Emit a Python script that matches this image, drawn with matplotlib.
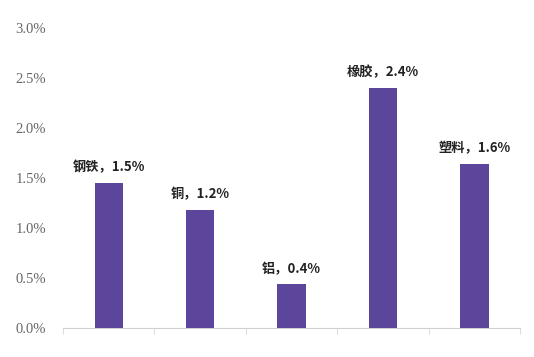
import matplotlib
matplotlib.use("Agg")
import matplotlib.pyplot as plt
from matplotlib.ticker import FuncFormatter

categories = ["钢铁", "铜", "铝", "橡胶", "塑料"]
values = [1.45, 1.18, 0.44, 2.40, 1.64]
value_labels = ["1.5%", "1.2%", "0.4%", "2.4%", "1.6%"]
yticks = [0.0, 0.5, 1.0, 1.5, 2.0, 2.5, 3.0]

plt.rcParams['font.family'] = ['Noto Sans CJK SC', 'DejaVu Sans']

fig = plt.figure(figsize=(5.34, 3.57), dpi=100)
ax = fig.add_axes([0.118, 0.081, 0.856, 0.841])

x = list(range(len(categories)))
ax.bar(x, values, width=0.31, color="#5B469B", zorder=3)

for xi, v, c, lab in zip(x, values, categories, value_labels):
    ax.annotate(f"{c}，{lab}", (xi, v), xytext=(0, 6), textcoords="offset points",
                ha="center", va="bottom", fontsize=9.5, fontweight="bold", color="#222222")

ax.set_xlim(-0.5, len(categories) - 0.5)
ax.set_ylim(0, 3.0)
ax.set_yticks(yticks)
ax.yaxis.set_major_formatter(FuncFormatter(lambda v, p: f"{v:.1f}%"))
for t in ax.get_yticklabels():
    t.set_fontfamily("Liberation Serif")
ax.tick_params(axis="y", length=0, labelsize=10.5, labelcolor="#666666", pad=12)

ax.set_xticks([i - 0.5 for i in range(len(categories) + 1)])
ax.set_xticklabels([])
ax.tick_params(axis="x", length=4, color="#dddddd", direction="out")

for s in ["top", "right", "left"]:
    ax.spines[s].set_visible(False)
ax.spines["bottom"].set_color("#d0d0d0")

fig.savefig("out.png", dpi=100)
